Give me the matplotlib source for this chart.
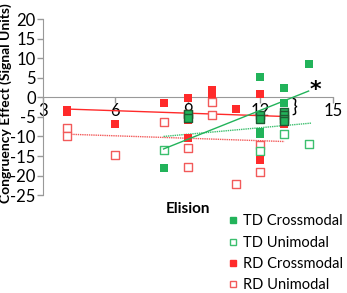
import matplotlib
matplotlib.use("Agg")
import matplotlib.pyplot as plt
import numpy as np

plt.rcParams['font.family'] = ['Lato', 'DejaVu Sans']
plt.rcParams['axes.unicode_minus'] = False

# ---- data ----
td_cross_x = [8, 12, 12, 12, 13, 13, 14]
td_cross_y = [-18.0, 5.1, -8.8, -9.4, 2.5, -1.4, 8.4]
td_dark_x = [9, 9, 12, 12, 13, 13, 13, 13]
td_dark_y = [-4.3, -5.2, -4.5, -5.5, -3.7, -4.5, -5.6, -6.1]
td_uni_x = [8, 12, 13, 14]
td_uni_y = [-13.4, -13.8, -9.4, -11.9]
rd_cross_x = [4, 4, 6, 8, 9, 9, 9, 10, 10, 11, 12, 12, 13]
rd_cross_y = [-3.2, -3.7, -6.8, -1.4, -0.1, -5.8, -10.3, 1.9, 0.9, -3.0, 0.9, -16.0, -6.8]
rd_uni_x = [4, 4, 6, 8, 9, 9, 9, 10, 10, 11, 12, 12]
rd_uni_y = [-7.9, -10.0, -14.7, -6.4, -4.2, -13.0, -17.9, -1.1, -4.5, -22.1, -12.3, -19.1]

# trend lines (endpoints)
td_cross_fit_x = [8, 14]
td_cross_fit_y = [-13.2, 1.6]
td_uni_fit_x = [8, 14.1]
td_uni_fit_y = [-10.0, -6.6]
rd_cross_fit_x = [4, 13]
rd_cross_fit_y = [-3.0, -4.9]
rd_uni_fit_x = [3.9, 13]
rd_uni_fit_y = [-9.4, -11.3]

x_ticks = [3, 6, 9, 12, 15]
y_ticks = [-25, -20, -15, -10, -5, 0, 5, 10, 15, 20]
legend_labels = ["TD Crossmodal", "TD Unimodal", "RD Crossmodal", "RD Unimodal"]

GREEN = '#22b35a'
GREEN_L = '#3cbf6e'
RED = '#ff2a2a'
RED_L = '#f25a5a'
DARK = '#1f5a32'

fig = plt.figure(figsize=(3.47, 2.93), dpi=100)
ax = fig.add_axes([0.123, 0.334, 0.836, 0.601])

ms = 26
# trend lines
ax.plot(rd_uni_fit_x, rd_uni_fit_y, color=RED_L, lw=1.0, ls=(0, (1, 0.6)), zorder=2)
ax.plot(td_uni_fit_x, td_uni_fit_y, color=GREEN_L, lw=1.0, ls=(0, (1, 0.6)), zorder=2)
ax.plot(rd_cross_fit_x, rd_cross_fit_y, color=RED, lw=1.0, zorder=2)
ax.plot(td_cross_fit_x, td_cross_fit_y, color=GREEN, lw=1.0, zorder=4)

ax.scatter(rd_uni_x, rd_uni_y, marker='s', s=ms, facecolors='white', edgecolors=RED_L, linewidths=1.0, zorder=3)
ax.scatter(td_uni_x, td_uni_y, marker='s', s=ms, facecolors='white', edgecolors=GREEN_L, linewidths=1.0, zorder=3)
ax.scatter(rd_cross_x, rd_cross_y, marker='s', s=ms, color=RED, linewidths=0, zorder=3)
ax.scatter(td_cross_x, td_cross_y, marker='s', s=ms, color=GREEN, linewidths=0, zorder=3)
ax.scatter(td_dark_x, td_dark_y, marker='s', s=ms, facecolors=GREEN, edgecolors=DARK, linewidths=1.0, zorder=3)

# annotations
ax.text(14.3, 1.8, '*', fontsize=16, fontweight='bold', ha='center', va='center', color='black',
        family=['DejaVu Sans'])
ax.text(13.4, -2.4, '}', fontsize=14, ha='center', va='center', color='black')

ax.set_xlim(3, 15)
ax.set_ylim(-25, 20)
ax.set_xticks(x_ticks)
ax.set_yticks(y_ticks)
ax.set_xticklabels([str(t) for t in x_ticks])
ax.set_yticklabels([str(t) for t in y_ticks])

for s in ['top', 'right']:
    ax.spines[s].set_visible(False)
ax.spines['bottom'].set_position(('data', 0))
ax.spines['bottom'].set_color('#999999')
ax.spines['left'].set_color('#999999')
ax.tick_params(axis='both', colors='#999999', labelcolor='black', labelsize=12, length=4, width=1)
ax.tick_params(axis='x', pad=0)
ax.tick_params(axis='y', pad=1)

ax.set_xlabel('Elision', fontsize=11, fontweight='bold')
ax.xaxis.set_label_coords(0.5, -0.04)
ax.set_ylabel('Congruency Effect (Signal Units)', fontsize=10, fontweight='bold',
              family=['Liberation Sans Narrow', 'Lato'])
ax.yaxis.set_label_coords(-0.105, 0.52)

handles = [
    plt.Line2D([], [], marker='s', ls='none', markersize=5, color=GREEN),
    plt.Line2D([], [], marker='s', ls='none', markersize=5, markerfacecolor='white', markeredgecolor=GREEN_L),
    plt.Line2D([], [], marker='s', ls='none', markersize=5, color=RED),
    plt.Line2D([], [], marker='s', ls='none', markersize=5, markerfacecolor='white', markeredgecolor=RED_L),
]
fig.legend(handles, legend_labels, loc='upper left', bbox_to_anchor=(0.66, 0.268),
           frameon=False, fontsize=10.5, handlelength=0.6, handletextpad=0.35,
           labelspacing=0.5, borderpad=0, borderaxespad=0)

fig.savefig('out.png', dpi=100)
